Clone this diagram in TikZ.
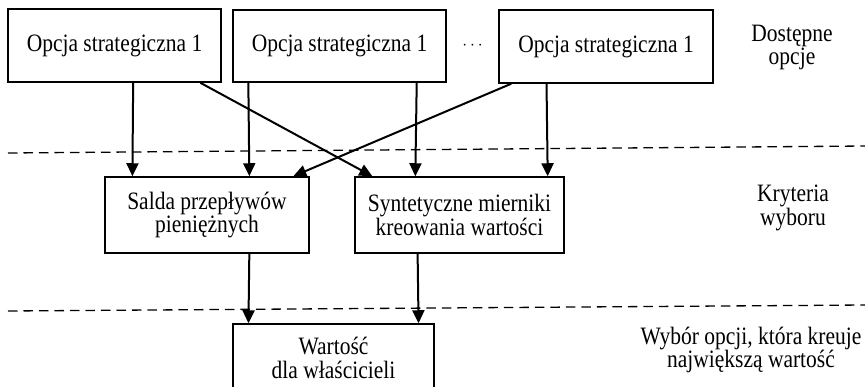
\documentclass[tikz,border=0pt]{standalone}
\usepackage{fontspec}
\setmainfont{Liberation Serif}[FakeStretch=0.86]
\usetikzlibrary{arrows.meta,calc}
\begin{document}
\begin{tikzpicture}[x=1pt,y=-1pt,
  box/.style={draw,line width=1.5pt,inner sep=0pt,align=center,font=\fontsize{25}{23.3}\selectfont},
  lbl/.style={inner sep=0pt,align=center,font=\fontsize{25}{23.3}\selectfont},
  arr/.style={line width=2pt,-{Triangle[length=13pt,width=12pt]}},
  sep/.style={line width=1.3pt,dash pattern=on 9.5pt off 6pt}]
\useasboundingbox (0,0) rectangle (865,386);
\clip (0,0) rectangle (865,386);
\node[box,minimum width=213pt,minimum height=73pt] (b1) at (114.5,45.5) {Opcja strategiczna 1};
\node[box,minimum width=213pt,minimum height=72pt] (b2) at (339.5,46) {Opcja strategiczna 1};
\node[box,minimum width=214pt,minimum height=73pt] (b3) at (606,46.5) {Opcja strategiczna 1};
\node[inner sep=0pt,font=\fontsize{18}{20}\selectfont] (dots) at (472.5,46) {$\cdots$};
\node[box,minimum width=204pt,minimum height=76pt] (sal) at (207,215) {Salda przepływów\\pieniężnych};
\node[box,minimum width=209pt,minimum height=76pt] (syn) at (459.5,215) {Syntetyczne mierniki\\kreowania wartości};
\node[box,minimum width=201pt,minimum height=68pt] (war) at (333.5,358) {Wartość\\dla właścicieli};
\node[lbl] (l1) at (792,47.5) {Dostępne\\opcje};
\node[lbl] (l2) at (793,208) {Kryteria\\wyboru};
\node[lbl] (l3) at (751,350) {Wybór opcji, która kreuje\\największą wartość};
\coordinate (d1a) at (8,153);
\coordinate (d1b) at (865,146);
\coordinate (d2a) at (8,311);
\coordinate (d2b) at (865,305);
\draw[sep] (d1a) -- (d1b);
\draw[sep] (d2a) -- (d2b);
\draw[arr] ($(b1.south west)!0.587!(b1.south east)$) -- ($(sal.north west)!0.137!(sal.north east)$);
\draw[arr] ($(b1.south west)!0.90!(b1.south east)$) -- ($(syn.north west)!0.086!(syn.north east)$);
\draw[arr] ($(b2.south west)!0.075!(b2.south east)$) -- ($(sal.north west)!0.706!(sal.north east)$);
\draw[arr] ($(b2.south west)!0.86!(b2.south east)$) -- ($(syn.north west)!0.29!(syn.north east)$);
\draw[arr] ($(b3.south west)!0.06!(b3.south east)$) -- ($(sal.north west)!0.92!(sal.north east)$);
\draw[arr] ($(b3.south west)!0.224!(b3.south east)$) -- ($(syn.north west)!0.919!(syn.north east)$);
\draw[arr] ($(sal.south west)!0.706!(sal.south east)$) -- ($(war.north west)!0.08!(war.north east)$);
\draw[arr] ($(syn.south west)!0.301!(syn.south east)$) -- ($(war.north west)!0.92!(war.north east)$);
\end{tikzpicture}
\end{document}
